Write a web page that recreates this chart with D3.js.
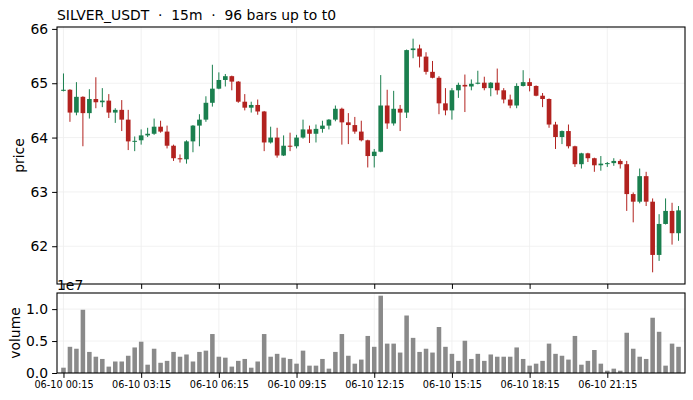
<!DOCTYPE html>
<html>
<head>
<meta charset="utf-8">
<script src="https://cdn.jsdelivr.net/npm/d3@7"></script>
<style>
body { margin: 0; background: #fff; }
text { font-family: "DejaVu Sans", sans-serif; }
</style>
</head>
<body>
<script>
// 96 bars of 15m
var open = [64.86,64.88,64.46,64.75,64.45,64.71,64.65,64.68,64.46,64.51,64.33,63.93,63.95,64.04,64.07,64.20,
  64.11,63.85,63.62,63.60,63.93,64.22,64.33,64.64,64.90,65.06,65.13,65.03,64.66,64.55,64.60,64.48,
  63.91,64.00,63.67,63.85,63.84,64.00,64.15,64.07,64.16,64.22,64.33,64.53,64.28,64.23,64.11,63.95,
  63.66,63.74,64.59,64.26,64.53,64.46,65.61,65.64,65.49,65.21,65.10,64.63,64.50,64.87,64.97,64.94,
  64.99,65.01,64.91,65.01,64.87,64.70,64.59,64.95,65.02,64.95,64.77,64.71,64.24,64.01,64.12,63.84,
  63.51,63.71,63.62,63.49,63.52,63.53,63.57,63.51,62.96,62.82,63.29,62.82,61.84,62.41,62.65,62.24];
var high = [65.18,64.89,65.02,64.76,64.89,65.11,64.91,64.80,64.54,64.69,64.51,64.02,64.15,64.18,64.35,64.31,
  64.22,63.87,63.69,63.95,64.23,64.43,64.76,65.34,65.20,65.17,65.14,65.04,64.80,64.66,64.70,64.49,
  64.20,64.18,64.04,64.09,64.05,64.33,64.22,64.24,64.31,64.34,64.59,64.55,64.45,64.38,64.31,63.96,
  63.79,65.15,64.88,64.86,64.60,65.62,65.82,65.71,65.57,65.41,65.13,64.91,64.91,65.01,65.16,65.07,
  65.23,65.12,65.02,65.27,64.91,64.79,65.00,65.24,65.09,64.96,64.82,64.72,64.29,64.13,64.24,63.85,
  63.72,63.72,63.63,63.66,63.55,63.62,63.60,63.57,62.99,63.43,63.37,62.88,62.59,62.88,62.80,62.74];
var low = [64.85,64.29,64.41,63.84,64.35,64.54,64.56,64.36,64.27,64.12,63.77,63.75,63.87,64.01,64.05,64.09,
  63.80,63.57,63.54,63.52,63.73,63.84,64.29,64.57,64.89,64.94,64.87,64.64,64.50,64.46,64.42,63.75,
  63.89,63.63,63.66,63.75,63.80,63.98,63.90,63.91,64.09,64.15,64.30,63.87,63.88,64.07,63.93,63.45,
  63.45,63.73,64.16,64.22,64.12,64.36,65.46,65.29,65.16,65.09,64.43,64.41,64.33,64.73,64.47,64.87,
  64.98,64.87,64.76,64.79,64.63,64.54,64.54,64.94,64.85,64.76,64.56,64.18,63.79,63.88,63.80,63.46,
  63.43,63.55,63.37,63.39,63.46,63.48,63.43,62.65,62.44,62.79,62.74,61.52,61.73,62.40,62.03,62.10];
var close = [64.88,64.46,64.75,64.45,64.71,64.65,64.68,64.46,64.51,64.33,63.93,63.94,64.04,64.07,64.20,64.11,
  63.85,63.62,63.60,63.93,64.22,64.33,64.64,64.90,65.06,65.13,65.03,64.66,64.55,64.60,64.48,63.91,
  64.00,63.67,63.85,63.84,64.00,64.15,64.07,64.16,64.22,64.33,64.53,64.28,64.23,64.11,63.95,63.66,
  63.74,64.59,64.26,64.53,64.46,65.61,65.64,65.49,65.21,65.10,64.63,64.50,64.87,64.97,64.94,64.99,
  65.01,64.91,65.01,64.87,64.70,64.59,64.95,65.02,64.95,64.77,64.71,64.24,64.01,64.12,63.84,63.51,
  63.71,63.62,63.49,63.52,63.53,63.57,63.51,62.96,62.82,63.29,62.82,61.84,62.41,62.65,62.24,62.66];
var volume = [830000,4100000,3800000,9900000,3300000,2550000,2200000,1000000,1800000,1800000,2700000,4000000,4900000,1300000,3800000,1600000,
  1900000,3300000,2550000,2900000,1800000,3300000,3500000,6100000,2550000,2400000,1000000,1900000,2200000,830000,1800000,6100000,
  2550000,3000000,2400000,2200000,1460000,3500000,1150000,1150000,2200000,680000,3300000,6100000,2700000,1460000,2100000,5800000,
  4100000,12100000,4600000,4600000,3200000,9000000,5500000,3300000,3800000,3200000,7200000,4100000,3000000,1900000,5050000,2200000,
  3000000,1900000,2900000,2550000,2550000,2550000,4000000,2200000,1150000,1460000,1900000,4600000,3000000,2700000,2100000,5800000,
  1300000,1900000,3600000,1460000,360000,680000,360000,6300000,3800000,2550000,2200000,8650000,6450000,1150000,4600000,4100000];

var tickIdx = [0, 12, 24, 36, 48, 60, 72, 84];
var tickLabels = ["06-10 00:15", "06-10 03:15", "06-10 06:15", "06-10 09:15",
  "06-10 12:15", "06-10 15:15", "06-10 18:15", "06-10 21:15"];
var priceTicks = [62, 63, 64, 65, 66];
var volTicks = [0, 5e6, 1e7];

var up = '#1a7f4e', down = '#b2221f', grid = '#eeeeee';
var W = 693, H = 400;
var L = 57, R = 685;
var mTop = 27, mBot = 284, vTop = 293, vBot = 373;

var svg = d3.select('body').append('svg')
   .attr('width', W)
   .attr('height', H);

var x = d3.scaleLinear().domain([-1, 96]).range([L, R]);
var lo = d3.min(low), hi = d3.max(high), pad = (hi - lo) * 0.05;
var y = d3.scaleLinear().domain([lo - pad, hi + pad]).range([mBot, mTop]);
var yv = d3.scaleLinear().domain([0, d3.max(volume) * 1.035]).range([vBot, vTop]);

function gridlines(g, yscale, yticks, top, bot) {
  g.selectAll('line.gx').data(tickIdx).enter().append('line')
     .attr('x1', x).attr('x2', x).attr('y1', top).attr('y2', bot)
     .attr('stroke', grid).attr('stroke-width', 0.8);
  g.selectAll('line.gy').data(yticks).enter().append('line')
     .attr('x1', L).attr('x2', R).attr('y1', yscale).attr('y2', yscale)
     .attr('stroke', grid).attr('stroke-width', 0.8);
}

var main = svg.append('g');
gridlines(main, y, priceTicks, mTop, mBot);
var vol = svg.append('g');
gridlines(vol, yv, volTicks, vTop, vBot);

// candles
var idx = d3.range(open.length);
var bw = 0.72;
var c = main.selectAll('g.candle').data(idx).enter().append('g').attr('class', 'candle');
c.append('line')
   .attr('x1', function(i) { return x(i); })
   .attr('x2', function(i) { return x(i); })
   .attr('y1', function(i) { return y(high[i]); })
   .attr('y2', function(i) { return y(low[i]); })
   .attr('stroke', function(i) { return close[i] >= open[i] ? up : down; })
   .attr('stroke-width', 1);
c.append('rect')
   .attr('x', function(i) { return x(i - bw / 2); })
   .attr('width', x(bw) - x(0))
   .attr('y', function(i) { return y(Math.max(open[i], close[i])); })
   .attr('height', function(i) { return Math.max(1, Math.abs(y(open[i]) - y(close[i]))); })
   .attr('fill', function(i) { return close[i] >= open[i] ? up : down; });

// volume bars
var vw = 0.7;
vol.selectAll('rect.v').data(idx).enter().append('rect')
   .attr('x', function(i) { return x(i - vw / 2); })
   .attr('width', x(vw) - x(0))
   .attr('y', function(i) { return yv(volume[i]); })
   .attr('height', function(i) { return vBot - yv(volume[i]); })
   .attr('fill', '#8a8a8a');

// axes
var fs = 13.9;
var ax1 = svg.append('g').attr('transform', 'translate(' + L + ',0)')
   .call(d3.axisLeft(y).tickValues(priceTicks).tickSize(4.9).tickPadding(4).tickFormat(d3.format('d')));
var ax2 = svg.append('g').attr('transform', 'translate(' + L + ',0)')
   .call(d3.axisLeft(yv).tickValues(volTicks).tickSize(4.9).tickPadding(4)
     .tickFormat(function(d) { return (d / 1e7).toFixed(1); }));
var ax3 = svg.append('g').attr('transform', 'translate(0,' + mBot + ')')
   .call(d3.axisBottom(x).tickValues(tickIdx).tickSize(4.9).tickFormat(''));
var ax4 = svg.append('g').attr('transform', 'translate(0,' + vBot + ')')
   .call(d3.axisBottom(x).tickValues(tickIdx).tickSize(4.9).tickPadding(3)
     .tickFormat(function(d, k) { return tickLabels[k]; }));
[ax1, ax2, ax3, ax4].forEach(function(a) {
  a.select('.domain').remove();
  a.selectAll('.tick line').attr('stroke', '#000').attr('stroke-width', 1);
  a.selectAll('.tick text').attr('fill', '#000').style('font-family', '"DejaVu Sans"');
});
ax1.selectAll('.tick text').style('font-size', fs + 'px');
ax2.selectAll('.tick text').style('font-size', fs + 'px');
ax4.selectAll('.tick text').style('font-size', '9.7px');

// frames
[[mTop, mBot], [vTop, vBot]].forEach(function(p) {
  svg.append('rect')
     .attr('x', L).attr('y', p[0])
     .attr('width', R - L).attr('height', p[1] - p[0])
     .attr('fill', 'none').attr('stroke', '#000').attr('stroke-width', 1.1);
});

svg.append('text')
   .attr('x', L).attr('y', 20)
   .style('font-size', fs + 'px')
   .style('white-space', 'pre')
   .text('SILVER_USDT  \u00b7  15m  \u00b7  96 bars up to t0');
svg.append('text')
   .attr('transform', 'translate(24,' + (mTop + mBot) / 2 + ') rotate(-90)')
   .attr('text-anchor', 'middle')
   .style('font-size', fs + 'px')
   .text('price');
svg.append('text')
   .attr('transform', 'translate(20,' + (vTop + vBot) / 2 + ') rotate(-90)')
   .attr('text-anchor', 'middle')
   .style('font-size', fs + 'px')
   .text('volume');
svg.append('text')
   .attr('x', L).attr('y', 290)
   .style('font-size', fs + 'px')
   .text('1e7');
</script>
</body>
</html>
